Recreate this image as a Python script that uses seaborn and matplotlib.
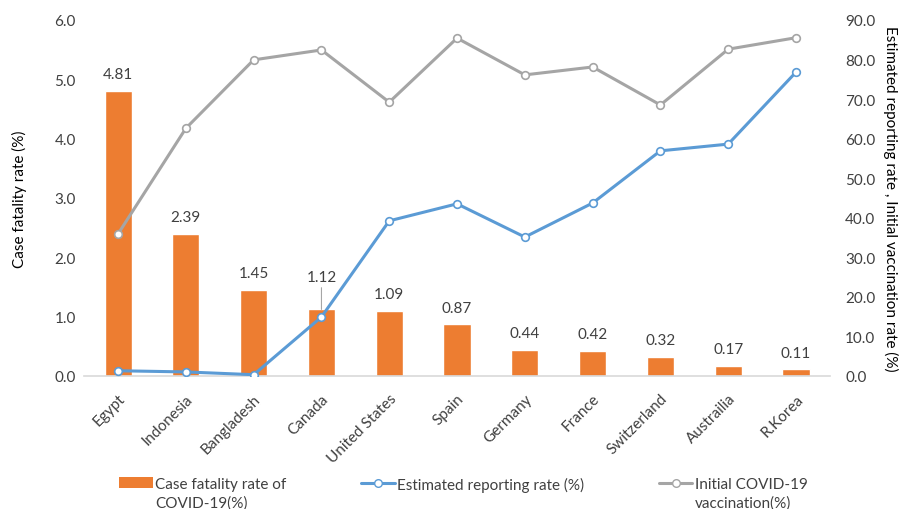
import numpy as np
import pandas as pd
import matplotlib
matplotlib.use("Agg")
import matplotlib.pyplot as plt
import seaborn as sns
from matplotlib.lines import Line2D
from matplotlib.patches import Patch

countries = ["Egypt", "Indonesia", "Bangladesh", "Canada", "United States", "Spain",
             "Germany", "France", "Switzerland", "Australia", "R.Korea"]
tick_labels = ["Egypt", "Indonesia", "Bangladesh", "Canada", "United States", "Spain",
               "Germany", "France", "Switzerland", "Austrailia", "R.Korea"]
fatality = [4.81, 2.39, 1.45, 1.12, 1.09, 0.87, 0.44, 0.42, 0.32, 0.17, 0.11]
reporting = [1.3, 1.0, 0.3, 14.9, 39.2, 43.5, 35.1, 43.7, 56.9, 58.6, 76.8]
vaccination = [35.9, 62.6, 79.9, 82.4, 69.2, 85.4, 76.1, 78.1, 68.5, 82.6, 85.5]

ORANGE = "#ED7D31"
BLUE = "#5B9BD5"
GRAY = "#A5A5A5"
TEXT = "#404040"

sns.set_theme(style="white")
plt.rcParams["font.family"] = ["Lato", "DejaVu Sans"]

df = pd.DataFrame({"idx": np.arange(len(countries)), "country": countries,
                   "fatality": fatality, "reporting": reporting,
                   "vaccination": vaccination})

fig = plt.figure(figsize=(9.15, 5.10), dpi=100)
ax = fig.add_axes([0.092, 0.261, 0.815, 0.698])

sns.barplot(data=df, x="idx", y="fatality", color=ORANGE, width=0.4,
            saturation=1, ax=ax, native_scale=True)
ax.set_xlim(-0.5, len(countries) - 0.5)
ax.set_ylim(0, 6)
ax.set_yticks(np.arange(0, 6.1, 1))
ax.set_yticklabels([f"{v:.1f}" for v in np.arange(0, 6.1, 1)])
ax.set_xticks(df["idx"])
ax.set_xticklabels(tick_labels, rotation=45, ha="right", rotation_mode="anchor")
ax.tick_params(axis="both", labelsize=11, colors=TEXT, length=0, pad=6)
ax.tick_params(axis="x", pad=11)
ax.set_xlabel("")
ax.set_ylabel("Case fatality rate (%)", fontsize=11, color="black", labelpad=20)

for s in ["top", "left", "right"]:
    ax.spines[s].set_visible(False)
ax.spines["bottom"].set_color("#D9D9D9")
ax.spines["bottom"].set_linewidth(1.2)

for i, v in enumerate(fatality):
    if countries[i] == "Canada":
        ax.annotate(f"{v:.2f}", xy=(i, v), xytext=(0, 18), textcoords="offset points",
                    ha="center", va="bottom", fontsize=11, color=TEXT,
                    arrowprops=dict(arrowstyle="-", color="#A6A6A6", lw=0.8,
                                    shrinkA=0, shrinkB=0))
    else:
        ax.annotate(f"{v:.2f}", xy=(i, v), xytext=(0, 7), textcoords="offset points",
                    ha="center", va="bottom", fontsize=11, color=TEXT)

ax2 = ax.twinx()
line_kw = dict(lw=2.2, marker="o", markersize=5.5, markerfacecolor="white",
               markeredgewidth=1.2)
sns.lineplot(data=df, x="idx", y="reporting", ax=ax2, color=BLUE,
             markeredgecolor=BLUE, **line_kw)
sns.lineplot(data=df, x="idx", y="vaccination", ax=ax2, color=GRAY,
             markeredgecolor=GRAY, **line_kw)
ax2.set_ylim(0, 90)
ax2.set_yticks(np.arange(0, 91, 10))
ax2.set_yticklabels([f"{v:.1f}" for v in np.arange(0, 91, 10)])
ax2.tick_params(axis="y", labelsize=11, colors=TEXT, length=0, pad=11)
ax2.set_xlabel("")
ax2.set_ylabel("Estimated reporting rate , Initial vaccination rate (%)", fontsize=11,
               color="black", rotation=-90, labelpad=16)
for s in ax2.spines.values():
    s.set_visible(False)
ax2.set_xlim(-0.5, len(countries) - 0.5)

# Legend: one entry per series, handle aligned with the first text line
handles = [Patch(facecolor=ORANGE, edgecolor="none"),
           Line2D([], [], color=BLUE, lw=2.2, marker="o", markersize=5.5,
                  markerfacecolor="white", markeredgecolor=BLUE),
           Line2D([], [], color=GRAY, lw=2.2, marker="o", markersize=5.5,
                  markerfacecolor="white", markeredgecolor=GRAY)]
first_lines = ["Case fatality rate of", "Estimated reporting rate (%)", "Initial COVID-19"]
second_lines = ["COVID-19(%)", None, "vaccination(%)"]
positions = [0.13, 0.395, 0.72]
legends = []
for h, l, x in zip(handles, first_lines, positions):
    leg = fig.legend([h], [l], loc="center left", bbox_to_anchor=(x, 1 - 485 / 510),
                     frameon=False, fontsize=11, handlelength=2.2,
                     handletextpad=0.15, borderaxespad=0, borderpad=0)
    for t in leg.get_texts():
        t.set_color(TEXT)
    legends.append(leg)

fig.canvas.draw()
inv = fig.transFigure.inverted()
for leg, second in zip(legends, second_lines):
    if second is None:
        continue
    bb = leg.get_texts()[0].get_window_extent()
    x0, y0 = inv.transform((bb.x0, bb.y0))
    fig.text(x0, y0 - 4 / 510, second, ha="left", va="top", fontsize=11, color=TEXT)

fig.savefig("out.png", dpi=100)
